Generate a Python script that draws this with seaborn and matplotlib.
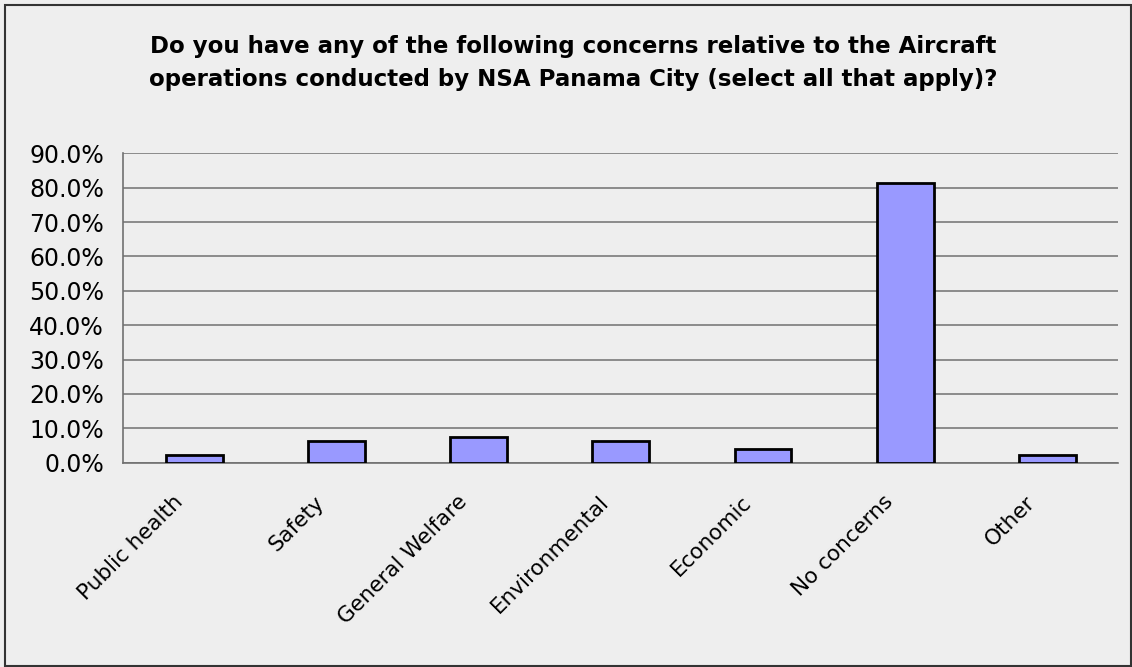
import matplotlib
matplotlib.use("Agg")
import matplotlib.pyplot as plt
import matplotlib.transforms as mtransforms
import seaborn as sns
import pandas as pd
from matplotlib.patches import Rectangle
from matplotlib.ticker import PercentFormatter

# Survey answers (share of respondents)
categories = ["Public health", "Safety", "General Welfare", "Environmental",
              "Economic", "No concerns", "Other"]
shares = [0.023, 0.064, 0.076, 0.064, 0.041, 0.813, 0.023]
title_text = ("Do you have any of the following concerns relative to the Aircraft\n"
              "operations conducted by NSA Panama City (select all that apply)?")

df = pd.DataFrame({"category": categories, "share": shares})

bg = "#EEEEEE"
sns.set_style("white")
plt.rcParams["font.family"] = ["DejaVu Sans"]
plt.rcParams["text.color"] = "black"
plt.rcParams["xtick.labelcolor"] = "black"
plt.rcParams["ytick.labelcolor"] = "black"

fig = plt.figure(figsize=(11.32, 6.67), dpi=100, facecolor=bg)
ax = fig.add_axes([0.1089, 0.3063, 0.8791, 0.4639], facecolor=bg)

sns.barplot(data=df, x="category", y="share", color="#9999FF", saturation=1,
            edgecolor="black", linewidth=2, width=0.4, ax=ax, zorder=3)

# Axis styling to look like the old Excel chart
ax.set_ylim(0, 0.9)
ax.set_xlim(-0.5, len(categories) - 0.5)
ax.set_yticks([i / 10 for i in range(10)])
ax.yaxis.set_major_formatter(PercentFormatter(1.0, decimals=1))
ax.yaxis.grid(True, color="#707070", linewidth=1.1, zorder=0)
ax.set_xlabel("")
ax.set_ylabel("")
for side in ["top", "right"]:
    ax.spines[side].set_visible(False)
for side in ["left", "bottom"]:
    ax.spines[side].set_color("#707070")
    ax.spines[side].set_linewidth(1.2)

# ticks between the categories on x, like Excel
ax.set_xticks([i + 0.5 for i in range(-1, len(categories))], minor=False)
ax.set_xticklabels([""] * (len(categories) + 1))
ax.set_xticks(range(len(categories)), minor=True)
ax.set_xticklabels(categories, minor=True, rotation=45, ha="right",
                   fontsize=15.5)
ax.tick_params(axis="x", which="major", length=7, width=1.2, color="#707070", direction="out")
ax.tick_params(axis="x", which="minor", length=0, pad=21)
ax.tick_params(axis="y", length=6, width=1.2, color="#707070", labelsize=17, pad=8)

# nudge the rotated labels a bit to the left, as in the original
shift = mtransforms.ScaledTranslation(-8 / 100, 0, fig.dpi_scale_trans)
for lbl in ax.get_xticklabels(minor=True):
    lbl.set_transform(lbl.get_transform() + shift)

fig.text(0.506, 0.948, title_text, ha="center", va="top", fontsize=16.5,
         fontweight="bold", linespacing=1.6)

# outer chart border
fig.patches.append(Rectangle((5 / 1132, 1 - 666 / 667), 1126 / 1132, 661 / 667,
                             transform=fig.transFigure, fill=False,
                             edgecolor="#333333", linewidth=1.5))

fig.savefig("out.png", dpi=100, facecolor=bg)
